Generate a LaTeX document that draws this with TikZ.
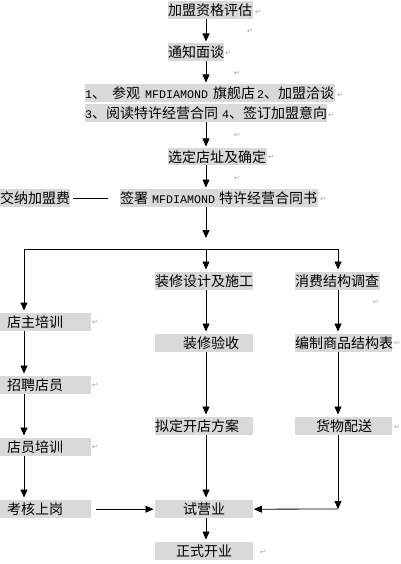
\documentclass[tikz,border=0pt]{standalone}
\usepackage{fontspec}
\newfontfamily\cjk{Noto Sans CJK SC}
\newfontfamily\latmono{Liberation Mono}
\newfontfamily\djv{DejaVu Sans}
\usetikzlibrary{arrows.meta}
\definecolor{boxgray}{RGB}{217,217,217}
\newcommand\mylat[1]{{\latmono\fontsize{11.67}{13}\selectfont #1}}
\newcommand\bx[3]{\makebox[#1pt][l]{\hspace*{#2pt}#3}}
\newcommand\hsp[1]{\hspace*{#1pt}}
\begin{document}
\begin{tikzpicture}[x=1pt,y=-1pt,
  box/.style={fill=boxgray,inner sep=0pt,minimum height=18pt,anchor=north west,
    font=\cjk\fontsize{14}{16}\selectfont},
  arr/.style={draw=black,line width=0.8pt,-{Triangle[length=8pt,width=7pt]},shorten >=1.5pt},
  ln/.style={draw=black,line width=0.8pt},
  ret/.style={font=\djv\fontsize{7}{8}\selectfont,text=gray!75,inner sep=0pt}]
\useasboundingbox (0,0) rectangle (400,564);

% main column
\node[box] (n1) at (168,1) {\bx{85}{0}{加盟资格评估}};
\node[box] (n2) at (168,43) {\bx{56}{0}{通知面谈}};
\node[box] (n3) at (85,84) {\bx{250}{0}{\mylat{1}、\hsp{6}参观\hsp{5}\mylat{MFDIAMOND}\hsp{5}旗舰店\hsp{2}\mylat{2}、加盟洽谈}};
\node[box] (n4) at (85,104) {\bx{242}{0}{\mylat{3}、阅读特许经营合同\hsp{4}\mylat{4}、签订加盟意向}};
\node[box,minimum height=17pt] (n5) at (168,148) {\bx{99}{0}{选定店址及确定}};
\node[box] (n6) at (120,189) {\bx{198}{0}{签署\hsp{4}\mylat{MFDIAMOND}\hsp{4}特许经营合同书}};
\node[box] (fee) at (0,189) {\bx{70}{0}{交纳加盟费}};

% left column
\node[box] (a1) at (0,313) {\bx{91}{7}{店主培训}};
\node[box] (a2) at (0,376) {\bx{91}{7}{招聘店员}};
\node[box] (a3) at (0,438) {\bx{91}{7}{店员培训}};
\node[box] (a4) at (0,500) {\bx{91}{7}{考核上岗}};

% middle column
\node[box] (b1) at (155,272) {\bx{98}{0}{装修设计及施工}};
\node[box] (b2) at (155,334) {\bx{98}{28}{装修验收}};
\node[box] (b3) at (155,417) {\bx{98}{0}{拟定开店方案}};
\node[box] (b4) at (155,500) {\bx{98}{28}{试营业}};
\node[box] (b5) at (155,542) {\bx{98}{21}{正式开业}};

% right column
\node[box] (c1) at (295,272) {\bx{85}{0}{消费结构调查}};
\node[box] (c2) at (295,334) {\bx{97}{0}{编制商品结构表}};
\node[box] (c3) at (295,417) {\bx{97}{21}{货物配送}};

% paragraph marks
\node[ret] (r1) at (258,12) {↵};
\node[ret] (r2) at (250,31) {↵};
\node[ret] (r3) at (228,53) {↵};
\node[ret] (r4) at (237,73) {↵};
\node[ret] (r5) at (340,95) {↵};
\node[ret] (r6) at (331,115) {↵};
\node[ret] (r7) at (237,135) {↵};
\node[ret] (r8) at (271,157) {↵};
\node[ret] (r9) at (237,178) {↵};
\node[ret] (r10) at (323,199) {↵};
\node[ret] (r11) at (376,302) {↵};
\node[ret] (r12) at (95,322) {↵};
\node[ret] (r13) at (397,343) {↵};
\node[ret] (r14) at (95,385) {↵};
\node[ret] (r15) at (397,427) {↵};
\node[ret] (r16) at (95,447) {↵};
\node[ret] (r17) at (263,552) {↵};

% column guides
\coordinate (cm) at (206,0);
\coordinate (cl) at (24,0);
\coordinate (cr) at (338,0);

% main flow
\draw[arr] (n1.south -| cm) -- (n2.north -| cm);
\draw[arr] (n2.south -| cm) -- (n3.north -| cm);
\draw[arr] (n4.south -| cm) -- (n5.north -| cm);
\draw[arr] (n5.south -| cm) -- (n6.north -| cm);
\draw[ln,shorten <=3pt,shorten >=12pt] (fee.east) -- (n6.west);

\coordinate (stop) at (206,238);
\draw[arr,shorten >=0pt] (n6.south -| cm) -- (stop);

\coordinate (hl) at (24,249);
\coordinate (hm) at (206,249);
\coordinate (hr) at (338,249);
\draw[ln] (hl) -- (hr);

% branches
\draw[arr,shorten >=2.5pt] (hl) -- (a1.north -| cl);
\draw[arr,shorten >=2.5pt] (hm) -- (b1.north -| cm);
\draw[arr,shorten >=2.5pt] (hr) -- (c1.north -| cr);

\draw[arr,shorten >=2.5pt] (a1.south -| cl) -- (a2.north -| cl);
\draw[arr,shorten >=2.5pt] (a2.south -| cl) -- (a3.north -| cl);
\draw[arr,shorten >=2.5pt] (a3.south -| cl) -- (a4.north -| cl);

\draw[arr,shorten >=2.5pt] (b1.south -| cm) -- (b2.north -| cm);
\draw[arr,shorten >=2.5pt] (b2.south -| cm) -- (b3.north -| cm);
\draw[arr,shorten >=2.5pt] (b3.south -| cm) -- (b4.north -| cm);
\draw[arr,shorten >=2.5pt] (b4.south -| cm) -- (b5.north -| cm);

\draw[arr,shorten >=2.5pt] (c1.south -| cr) -- (c2.north -| cr);
\draw[arr,shorten >=2.5pt] (c2.south -| cr) -- (c3.north -| cr);

\coordinate (corner) at (338,509);
\draw[arr,shorten >=0pt] (c3.south -| cr) -- (corner);
\draw[arr,shorten >=0.5pt] (corner) -- (b4.east);
\draw[arr,shorten <=5pt] (a4.east) -- (b4.west);
\end{tikzpicture}
\end{document}
